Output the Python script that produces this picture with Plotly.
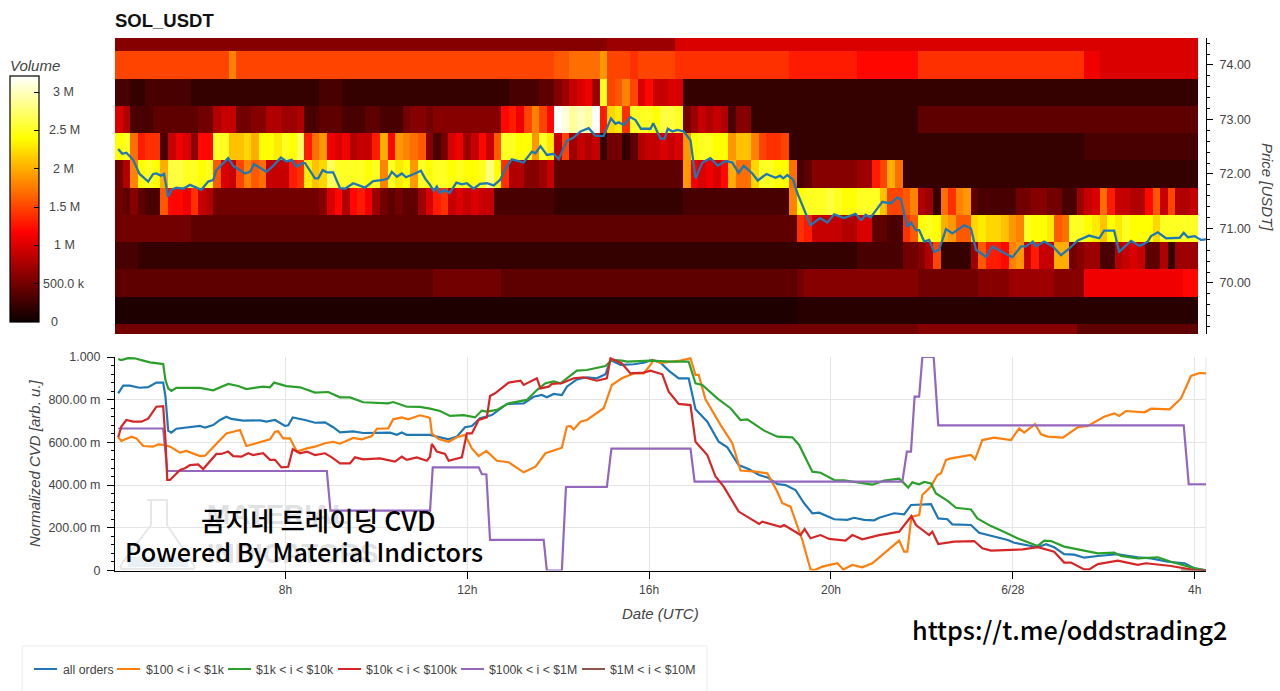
import numpy as np
import plotly.graph_objects as go

# ---------- price ladder heatmap: volume per 10-minute bucket, in units of 100k ----------
PRICE_LEVELS = [74.5, 74.0, 73.5, 73.0, 72.5, 72.0, 71.5, 71.0, 70.5, 70.0, 69.5, 69.0]

VOL_745 = [
 6,6,6,6,6,6,6,6,6,6, 6,6,6,6,6,6,6,6,6,6, 6,6,6,6,6,6,6,6,6,6, 6,6,6,6,6,6,6,6,6,6,
 6,6,6,6,6,6,6,6,6,6, 6,6,6,6,6,6,6,6,6,6, 6,6,6,6,6,7,7,7,7,7, 7,7,7,7,10,10,10,10,10,10,
 10,10,10,10,10,10,10,10,10,10, 10,10,10,10,10,10,10,10,10,10, 10,10,10,10,10,10,10,10,10,10, 10,10,10,10,10,10,10,10,10,10,
 10,10,10,10,10,10,10,10,10,10, 10,10,10,10,10,10,10,10,10,10, 10,10,10]
VOL_740 = [
 15,15,15,15,15,15,15,15,15,15, 15,15,15,15,15,18,15,15,15,15, 15,15,15,15,15,15,15,15,15,15, 15,15,15,15,15,15,15,15,15,15,
 15,15,15,15,15,15,15,15,15,15, 15,15,15,15,15,15,15,15,16,16, 17,17,17,17,19,15,15,15,14,15, 15,15,15,15,14,14,14,14,14,14,
 14,14,14,14,14,14,14,14,14,13, 13,13,13,13,13,13,13,13,12,12, 12,12,12,12,12,12,14,14,14,14, 14,14,14,14,14,14,14,14,14,14,
 14,14,14,14,14,14,14,14,11,11, 10,10,10,10,10,10,10,10,10,10, 10,10,10]
VOL_735 = [
 3,3,2,2,3,3,3,3,3,3, 2,2,2,2,2,2,2,2,2,2, 2,2,2,2,2,2,2,3,3,3, 2,2,2,2,2,2,2,2,2,2,
 2,2,2,2,2,2,2,2,2,2, 2,2,3,3,3,3,4,4,6,7, 9,10,11,7,25,15,16,18,15,10, 12,9,9,10,10,2,2,2,2,2,
 2,2,2,2,2,2,2,2,2,2, 2,2,2,2,2,2,2,2,2,2, 2,2,2,2,2,2,2,2,2,2, 2,2,2,2,2,2,2,2,2,2,
 2,2,2,2,2,2,2,2,2,2, 2,2,2,2,2,2,2,2,2,2, 2,2,2]
VOL_730 = [
 10,8,3,3,3,4,4,4,4,4, 4,5,5,8,9,9,5,5,6,6, 8,8,7,7,8,3,3,4,4,4, 3,3,3,4,4,3,3,3,5,6,
 6,5,6,6,6,6,6,6,6,6, 6,12,13,11,15,18,15,12,32,31, 29,30,29,32,13,22,23,14,25,25, 25,24,26,26,25,5,7,9,8,9,
 8,3,6,6,2,2,2,2,2,2, 2,2,2,2,2,2,2,2,2,2, 2,2,2,2,2,2,4,4,4,4, 4,4,4,4,4,4,4,4,4,4,
 4,4,4,4,4,4,4,4,4,4, 4,4,4,4,4,4,4,4,4,4, 4,4,4]
VOL_725 = [
 24,25,17,13,14,14,3,9,11,10, 6,12,12,25,25,21,21,22,20,24, 24,23,25,24,27,13,17,19,11,10, 11,8,9,9,13,20,12,19,18,17,
 16,6,3,5,10,11,7,9,12,9, 16,25,25,24,24,19,25,23,9,15, 7,9,8,9,2,5,5,2,4,8, 9,9,10,9,10,19,24,25,25,24,
 24,19,21,21,18,15,14,14,15,2, 2,2,2,2,2,2,2,2,2,2, 2,2,2,2,2,2,2,2,2,2, 2,2,2,2,2,2,2,2,2,2,
 2,2,2,2,2,2,2,2,3,3, 3,3,3,3,3,3,3,3,3,3, 3,3,3]
VOL_720 = [
 5,8,18,24,25,24,20,26,26,25, 25,24,25,16,10,9,15,18,16,17, 9,9,9,13,14,23,21,22,27,25, 25,25,25,24,25,18,25,23,24,19,
 25,24,25,25,24,25,24,24,25,28, 24,14,8,8,6,6,7,9,4,4, 4,4,4,4,4,4,4,4,4,4, 4,4,4,4,4,19,11,10,11,10,
 12,20,17,17,22,25,25,24,24,17, 3,4,6,6,6,6,6,6,7,7, 13,15,20,17,2,2,2,2,2,2, 2,2,2,2,2,2,2,2,2,2,
 2,2,2,2,2,2,2,2,2,2, 2,2,2,2,2,2,2,2,2,2, 2,2,2]
VOL_715 = [
 5,4,6,4,3,3,16,12,12,11, 14,9,8,5,5,5,5,5,5,5, 5,5,5,5,5,5,5,6,10,12, 8,12,13,11,7,5,4,5,4,4,
 7,10,13,14,9,10,9,10,9,9, 3,3,3,3,3,3,3,3,2,2, 2,2,2,2,2,2,2,2,2,2, 2,2,2,2,2,3,3,3,3,3,
 3,3,3,3,3,3,3,3,3,18, 24,25,25,25,26,25,24,24,25,25, 25,21,15,15,16,18,8,7,2,17, 14,18,19,4,3,3,3,3,3,5,
 5,6,6,5,5,3,3,7,9,10, 17,13,9,9,8,8,12,16,9,15, 8,8,9]
VOL_710 = [
 5,5,5,5,5,5,5,5,5,5, 4,4,4,4,4,4,4,4,4,4, 4,4,4,4,4,4,4,4,4,4, 4,4,4,4,4,4,4,4,4,4,
 4,4,4,4,4,4,4,4,4,4, 4,4,4,4,4,4,4,4,4,4, 4,4,4,4,4,4,4,4,4,4, 4,4,4,4,4,4,4,4,4,4,
 4,4,4,4,4,4,4,4,4,4, 14,13,9,9,9,9,8,8,10,10, 4,4,3,3,14,16,24,25,24,20, 19,16,16,22,23,22,22,21,19,18,
 25,24,24,23,16,17,25,25,24,23, 21,24,23,25,24,24,24,22,25,25, 25,25,25]
VOL_705 = [
 3,3,3,2,2,2,2,2,2,2, 2,2,2,2,2,2,2,2,2,2, 2,2,2,2,2,2,2,2,2,2, 2,2,2,2,2,2,2,2,2,2,
 2,2,2,2,2,2,2,2,2,2, 2,2,2,2,2,2,2,2,2,2, 2,2,2,2,2,2,2,2,2,2, 2,2,2,2,2,2,2,2,2,2,
 2,2,2,2,2,2,2,2,2,2, 2,2,2,2,2,2,2,2,3,3, 3,3,3,3,5,5,6,8,15,2, 2,2,2,7,16,13,13,12,18,19,
 9,13,9,9,20,20,5,6,7,7, 3,3,8,9,10,9,4,4,8,2, 7,7,7]
VOL_700 = [
 4,4,4,4,4,4,4,4,4,4, 4,4,4,4,4,4,4,4,4,4, 4,4,4,4,4,4,4,4,4,4, 4,4,4,4,4,4,4,4,4,4,
 4,4,5,5,5,5,5,5,5,5, 5,4,4,4,4,4,4,4,4,4, 4,4,4,4,4,4,4,4,4,4, 4,4,4,4,4,4,4,4,4,4,
 4,4,4,4,4,4,4,4,4,4, 5,6,6,6,6,6,6,6,6,6, 6,6,6,6,6,6,5,5,5,5, 5,5,5,5,6,6,6,6,7,7,
 7,7,7,7,6,6,6,6,11,11, 11,11,11,11,11,11,11,11,11,11, 11,12,12]
VOL_695 = [
 1,1,1,1,1,1,1,1,1,1, 1,1,1,1,1,1,1,1,1,1, 1,1,1,1,1,1,1,1,1,1, 1,1,1,1,1,1,1,1,1,1,
 1,1,1,1,1,1,1,1,1,1, 1,1,1,1,1,1,1,1,1,1, 1,1,1,1,1,1,1,1,1,1, 1,1,1,1,1,1,1,1,1,1,
 1,1,1,1,1,1,1,1,1,1, 1.5,1.5,1.5,1.5,1.5,1.5,1.5,1.5,1.5,1.5, 1.5,1.5,1.5,1.5,1.5,1.5,1.5,1.5,1.5,1.5, 1.5,1.5,1.5,1.5,1.5,1.5,1.5,1.5,1.5,1.5,
 1.5,1.5,1.5,1.5,1.5,1.5,1.5,1.5,1.5,1.5, 1.5,1.5,1.5,1.5,1.5,1.5,1.5,1.5,1.5,1.5, 1.5,1.5,1.5]
VOL_690 = [
 5,5,5,5,5,5,5,5,5,5, 5,5,5,5,5,5,5,5,5,5, 5,5,5,5,5,5,5,5,5,5, 5,5,5,5,5,5,5,5,5,5,
 5,5,5,5,5,5,5,5,5,5, 5,5,5,5,5,5,5,5,5,5, 5,5,5,5,5,5,5,5,5,5, 5,5,5,5,5,5,5,5,5,5,
 5,5,5,5,5,5,5,5,5,5, 5,5,5,5,5,5,5,5,5,5, 5,5,5,5,5,5,6,6,6,6, 6,6,6,6,6,6,6,6,6,6,
 6,6,6,6,6,6,6,4,4,4, 4,4,4,4,4,4,4,4,4,4, 4,4,4]

# ---------- last traded price ----------
PRICE_T = [4.32,4.41,4.50,4.65,4.79,4.98,5.09,5.16,5.26,5.33,5.42,5.49,5.60,5.75,5.90,6.15,6.30,6.41,6.48,6.74,6.85,7.11,7.22,7.31,7.58,7.73,7.90,8.02,8.14,8.25,8.36,8.43,8.65,8.72,8.82,8.91,9.05,9.20,9.31,9.49,9.75,9.93,10.15,10.26,10.34,10.45,10.56,10.65,10.85,10.98,11.07,11.18,11.26,11.33,11.40,11.51,11.61,11.76,11.88,11.99,12.14,12.28,12.43,12.58,12.72,12.84,12.98,13.24,13.42,13.50,13.61,13.75,13.90,14.01,14.19,14.34,14.49,14.67,14.82,15.0,15.16,15.26,15.33,15.44,15.59,15.70,15.82,16.03,16.09,16.25,16.34,16.41,16.51,16.62,16.76,16.91,17.02,17.17,17.35,17.51,17.68,17.83,17.97,18.08,18.27,18.39,18.58,18.78,18.88,18.95,19.04,19.17,19.26,19.44,19.55,19.76,19.92,20.07,20.29,20.54,20.65,20.69,20.76,20.87,21.13,21.31,21.46,21.54,21.68,21.76,21.87,21.94,22.05,22.16,22.27,22.38,22.53,22.67,22.93,23.08,23.19,23.41,23.55,23.77,23.99,24.18,24.29,24.44,24.51,24.69,24.88,25.06,25.21,25.43,25.68,25.90,26.01,26.23,26.34,26.60,26.79,26.97,27.04,27.19,27.37,27.67,27.76,27.85,28.0,28.14,28.25]
PRICE_V = [72.46,72.37,72.39,72.26,72.00,71.86,72.00,72.01,71.97,72.00,71.58,71.71,71.75,71.73,71.80,71.71,71.86,71.89,72.07,72.29,72.15,72.01,72.04,72.18,72.04,72.15,72.30,72.23,72.26,72.13,72.20,72.20,71.92,71.92,72.07,72.03,72.03,71.74,71.73,71.83,71.75,71.87,71.89,71.92,72.04,71.95,72.01,71.94,72.01,72.06,71.92,71.80,71.69,71.77,71.65,71.71,71.65,71.84,71.81,71.83,71.73,71.82,71.83,71.79,71.89,72.10,72.27,72.21,72.41,72.38,72.51,72.35,72.37,72.27,72.61,72.67,72.78,72.84,72.70,72.70,73.02,72.92,72.95,72.90,73.04,72.99,72.83,72.83,72.93,72.65,72.65,72.83,72.78,72.81,72.78,72.62,71.92,72.21,72.29,72.15,72.24,72.21,72.02,72.15,72.01,71.88,72.00,71.93,71.97,71.92,71.98,71.89,71.65,71.28,71.06,71.19,71.11,71.26,71.19,71.27,71.16,71.17,71.25,71.20,71.49,71.46,71.57,71.53,71.03,71.11,70.97,70.97,70.76,70.79,70.57,70.61,70.99,70.91,71.06,71.00,70.61,70.48,70.67,70.57,70.47,70.67,70.67,70.76,70.67,70.76,70.67,70.51,70.61,70.78,70.87,70.82,70.96,70.96,70.57,70.77,70.68,70.76,70.86,70.93,70.82,70.83,70.92,70.84,70.86,70.79,70.80]

# ---------- normalized CVD per order-size bucket ----------
ALL_T = [4.32,4.43,4.575,4.79,4.98,5.16,5.31,5.36,5.42,5.49,5.60,5.90,6.12,6.23,6.41,6.56,6.70,6.81,7.07,7.44,7.58,7.77,7.99,8.06,8.16,8.43,8.65,8.87,9.05,9.20,9.49,9.71,10.08,10.30,10.45,10.56,10.67,11.0,11.18,11.33,11.59,11.77,11.95,12.10,12.28,12.54,12.87,13.24,13.46,13.64,13.75,13.90,14.08,14.19,14.41,14.63,14.85,15.04,15.15,15.37,15.66,15.88,16.07,16.25,16.43,16.65,16.87,17.02,17.28,17.53,17.72,17.97,18.20,18.42,18.60,18.82,19.00,19.22,19.41,19.59,19.74,20.07,20.36,20.51,20.73,20.95,21.06,21.39,21.61,21.76,22.20,22.36,22.56,22.67,23.08,23.26,23.52,23.89,24.03,24.55,24.73,24.91,25.13,25.35,25.57,25.87,26.31,26.75,27.04,27.41,27.78,28.0,28.25]
ALL_V = [.830,.866,.866,.856,.859,.880,.880,.814,.655,.646,.664,.672,.677,.669,.681,.705,.720,.710,.702,.703,.697,.705,.677,.680,.717,.705,.692,.694,.671,.647,.652,.644,.644,.646,.636,.646,.635,.635,.635,.627,.614,.627,.671,.677,.713,.728,.780,.783,.814,.822,.811,.827,.822,.861,.895,.905,.900,.919,.986,.963,.966,.973,.986,.973,.936,.900,.900,.755,.697,.603,.577,.494,.474,.447,.436,.405,.400,.377,.315,.268,.271,.240,.237,.247,.237,.235,.247,.268,.263,.307,.311,.244,.240,.216,.213,.177,.162,.143,.130,.109,.123,.109,.077,.074,.060,.068,.076,.062,.057,.041,.034,.010,.001]

SMALL_T = [4.32,4.39,4.61,4.72,4.87,5.09,5.20,5.35,5.46,5.68,5.82,6.12,6.23,6.48,6.70,7.0,7.14,7.66,7.77,7.84,7.95,8.10,8.25,8.47,8.65,8.87,9.05,9.20,9.49,9.68,9.90,10.01,10.26,10.37,10.56,10.70,10.96,11.15,11.18,11.22,11.37,11.59,11.77,11.95,12.10,12.25,12.42,12.65,12.91,13.24,13.50,13.72,14.08,14.19,14.27,14.34,14.49,14.63,14.82,15.0,15.18,15.40,15.66,15.88,16.03,16.10,16.25,16.47,16.69,16.91,17.02,17.09,17.24,17.57,17.83,18.01,18.34,18.60,18.82,18.93,19.11,19.37,19.55,19.63,19.81,20.14,20.27,20.47,20.69,20.91,21.28,21.50,21.61,21.68,21.77,21.94,22.01,22.20,22.34,22.42,22.53,22.64,23.08,23.17,23.33,23.59,23.96,24.14,24.25,24.49,24.62,24.77,25.10,25.43,25.65,26.01,26.23,26.34,26.49,26.90,27.04,27.45,27.70,27.92,28.11,28.25]
SMALL_V = [.624,.607,.627,.619,.583,.580,.591,.588,.580,.552,.560,.536,.538,.596,.642,.658,.583,.614,.650,.652,.619,.619,.557,.572,.580,.596,.603,.594,.621,.614,.630,.664,.666,.708,.717,.708,.727,.717,.713,.642,.616,.603,.624,.635,.572,.536,.560,.514,.507,.460,.486,.549,.575,.674,.677,.661,.697,.705,.733,.760,.869,.900,.923,.923,.963,.986,.973,.978,.983,.994,.916,.916,.802,.682,.596,.468,.463,.455,.369,.315,.299,.143,.005,.001,.018,.034,.005,.026,.015,.034,.099,.140,.088,.088,.252,.260,.354,.393,.447,.455,.518,.525,.541,.521,.611,.622,.611,.666,.646,.686,.638,.627,.622,.671,.677,.720,.736,.724,.747,.741,.758,.755,.806,.911,.925,.923]

MID_T = [4.32,4.39,4.54,4.68,4.87,5.02,5.31,5.36,5.42,5.49,5.60,5.82,6.12,6.41,6.74,6.96,7.14,7.51,7.66,7.75,8.02,8.32,8.65,8.94,9.20,9.42,9.71,10.26,10.37,10.67,10.96,11.18,11.40,11.62,11.92,12.17,12.32,12.43,12.65,12.91,13.31,13.53,13.72,13.90,14.05,14.41,14.63,15.04,15.18,15.40,15.52,16.03,16.47,16.87,17.02,17.17,17.50,17.79,18.01,18.16,18.53,18.82,19.15,19.30,19.59,19.77,20.07,20.29,20.65,20.91,21.17,21.50,21.61,21.70,21.79,21.94,22.05,22.20,22.31,22.56,22.75,23.08,23.22,23.52,23.85,24.10,24.55,24.69,24.84,25.13,25.57,25.87,26.23,26.38,26.75,27.19,27.48,28.0,28.25]
MID_V = [.991,.986,.995,.994,.983,.975,.967,.892,.853,.841,.856,.856,.855,.844,.874,.864,.850,.861,.858,.880,.864,.858,.833,.836,.811,.811,.788,.783,.789,.767,.766,.758,.747,.724,.728,.717,.749,.744,.752,.783,.799,.845,.877,.886,.877,.936,.939,.958,.986,.983,.978,.983,.978,.978,.877,.869,.806,.760,.705,.708,.655,.627,.624,.588,.463,.458,.424,.422,.411,.402,.421,.430,.408,.388,.413,.404,.415,.408,.361,.327,.294,.286,.244,.208,.177,.151,.115,.140,.138,.112,.093,.080,.084,.068,.057,.062,.041,.010,.001]

LARGE_T = [4.32,4.39,4.50,4.65,4.83,4.98,5.16,5.31,5.36,5.40,5.46,5.68,5.79,5.90,6.08,6.19,6.48,6.59,6.74,6.85,7.03,7.18,7.29,7.51,7.66,7.77,7.91,8.06,8.16,8.32,8.47,8.65,8.87,9.02,9.20,9.42,9.53,9.71,10.08,10.41,10.56,10.67,10.89,11.11,11.18,11.22,11.33,11.51,11.59,11.88,11.99,12.10,12.25,12.43,12.50,12.61,12.91,13.17,13.24,13.53,13.61,13.79,13.86,14.08,14.34,14.56,14.85,15.07,15.15,15.40,15.59,15.88,16.03,16.29,16.43,16.65,16.91,17.02,17.28,17.46,17.64,17.97,18.42,18.49,18.89,18.97,19.33,19.42,19.55,19.77,19.96,20.32,20.47,20.69,21.06,21.50,21.77,21.87,22.16,22.23,22.36,22.71,23.15,23.33,23.52,24.03,24.22,24.55,24.91,25.13,25.28,25.57,25.68,25.87,26.31,26.75,26.93,27.48,28.0,28.25]
LARGE_V = [.624,.674,.705,.697,.697,.711,.767,.770,.611,.424,.424,.471,.479,.494,.497,.475,.546,.546,.557,.536,.533,.549,.541,.549,.518,.518,.483,.486,.568,.549,.557,.541,.549,.530,.502,.502,.530,.521,.525,.510,.533,.518,.530,.514,.533,.593,.557,.546,.514,.530,.642,.642,.705,.717,.817,.830,.880,.889,.869,.900,.853,.861,.874,.877,.900,.905,.889,.900,.994,.970,.923,.927,.936,.919,.838,.780,.775,.603,.541,.440,.393,.276,.218,.229,.205,.213,.166,.194,.151,.166,.148,.140,.166,.146,.166,.182,.255,.213,.166,.182,.124,.135,.138,.104,.093,.096,.099,.109,.088,.037,.037,.005,.005,.030,.046,.026,.034,.021,.002,0]

BLOCK_T = [4.32,5.31,5.40,8.91,8.99,11.18,11.24,12.25,12.32,12.42,12.50,13.68,13.75,14.08,14.17,15.07,15.17,16.91,17.0,21.57,21.67,21.76,21.84,21.94,22.01,22.26,22.36,27.76,27.87,28.25]
BLOCK_V = [.665,.665,.466,.466,.280,.280,.483,.483,.452,.450,.143,.143,0,0,.391,.391,.571,.571,.416,.416,.557,.557,.814,.814,1,1,.680,.680,.404,.404]

WHALE_T = [27.7,28.25]
WHALE_V = [0,0]

SERIES_NAMES = ["all orders", "$100 < i < $1k", "$1k < i < $10k", "$10k < i < $100k", "$100k < i < $1M", "$1M < i < $10M"]
SERIES_COLORS = ["#1f77b4", "#ff7f0e", "#2ca02c", "#d62728", "#9467bd", "#8c564b"]

CVD_TICKS = [0, .2, .4, .6, .8, 1]
CVD_LABELS = ["0", "200.00 m", "400.00 m", "600.00 m", "800.00 m", "1.000"]
PRICE_TICKS = [70, 71, 72, 73, 74]
PRICE_LABELS = ["70.00", "71.00", "72.00", "73.00", "74.00"]
TIME_TICKS = [8, 12, 16, 20, 24, 28]
TIME_LABELS = ["8h", "12h", "16h", "20h", "6/28", "4h"]
VOL_TICKS = [0, 5, 10, 15, 20, 25, 30]
VOL_LABELS = ["0", "500.0 k", "1 M", "1.5 M", "2 M", "2.5 M", "3 M"]

W, H = 1280, 691
FONT = "Liberation Sans"
GRAY = "#444444"
px = lambda x: x / W
py = lambda y: 1 - y / H

volume = [VOL_690, VOL_695, VOL_700, VOL_705, VOL_710, VOL_715, VOL_720, VOL_725, VOL_730, VOL_735, VOL_740, VOL_745]
levels = PRICE_LEVELS[::-1]
buckets = 4.25 + (np.arange(len(VOL_745)) + 0.5) / 6

fig = go.Figure()

fig.add_trace(go.Heatmap(
    x=buckets, y=levels, z=volume, xaxis="x", yaxis="y", zmin=0, zmax=32.1, hoverinfo="skip",
    colorscale=[[0, "#0a0000"], [.365, "#ff0000"], [.746, "#ffff00"], [1, "#ffffff"]],
    colorbar=dict(
        x=px(9.5), xanchor="left", xpad=0, y=py(322), yanchor="bottom", ypad=0,
        len=246 / H, lenmode="fraction", thickness=28.5, thicknessmode="pixels",
        outlinecolor="black", outlinewidth=1.2, tickmode="array", tickvals=VOL_TICKS, ticktext=VOL_LABELS,
        ticks="inside", ticklen=5, tickcolor="black", showticklabels=False),
))
fig.add_trace(go.Scatter(x=PRICE_T, y=PRICE_V, xaxis="x", yaxis="y", mode="lines",
                         line=dict(color="#1f77b4", width=2.3), showlegend=False, cliponaxis=True))

# faint vendor mark sits under the CVD lines
fig.add_trace(go.Scatter(x=[6.27, 6.27], y=[.25, .068], xaxis="x2", yaxis="y2", mode="text",
                         text=["MATERIAL", "INDICATORS"], textposition="middle right",
                         textfont=dict(family=FONT, size=28, color="#dfe1e3", weight="bold"),
                         showlegend=False, hoverinfo="skip"))

cvd = [(ALL_T, ALL_V), (SMALL_T, SMALL_V), (MID_T, MID_V), (LARGE_T, LARGE_V), (BLOCK_T, BLOCK_V), (WHALE_T, WHALE_V)]
draw_order = [0, 1, 2, 4, 3, 5]
for i in draw_order:
    fig.add_trace(go.Scatter(x=cvd[i][0], y=cvd[i][1], xaxis="x2", yaxis="y2", mode="lines", name=SERIES_NAMES[i],
                             line=dict(color=SERIES_COLORS[i], width=2.2), showlegend=False))

tickfont = dict(family=FONT, size=12.5, color=GRAY)
X_RANGE = [4.25, 28.25]
X_DOMAIN = [px(115), px(1206)]

shapes = [
    dict(type="line", xref="paper", yref="paper", x0=px(1206), x1=px(1206), y0=py(357), y1=py(570.5),
         line=dict(color="#e5e5e5", width=1), layer="below"),
    dict(type="path", xref="paper", yref="paper", layer="below", line=dict(color="#e6e7e8", width=2),
         path="M {0},{5} L {1},{5} L {1},{6} L {2},{7} Q {3},{8} {2},{8} L {4},{8} Q {9},{8} {4},{7} L {10},{6} L {10},{5} Z".format(
             px(147), px(167), px(192), px(197), px(123), py(500), py(525), py(562), py(569), px(118), px(151))),
    dict(type="rect", xref="paper", yref="paper", layer="below", x0=px(128), x1=px(188), y0=py(567), y1=py(557),
         fillcolor="#e9f0f5", line=dict(width=0)),
    dict(type="rect", xref="paper", yref="paper", x0=px(22), x1=px(707), y0=py(646), y1=py(692),
         line=dict(color="#ececec", width=1), fillcolor="white", layer="below"),
]

annotations = []


def note(x, y, text, size, color=GRAY, anchor="left", angle=0, **font):
    # annotation boxes carry about 2px of padding on the left
    shift = 2 if anchor == "left" else 0
    annotations.append(dict(xref="paper", yref="paper", x=px(x - shift), y=py(y), text=text, showarrow=False,
                            xanchor=anchor, yanchor="middle", align="left", textangle=angle,
                            font=dict(family=font.pop("family", FONT), size=size, color=color, **font)))


# legend row
LEGEND_X = [(34, 62.5), (117, 145.7), (228, 256), (338, 366), (461, 489), (582, 610)]
for (x0, xt), name, color in zip(LEGEND_X, SERIES_NAMES, SERIES_COLORS):
    shapes.append(dict(type="line", xref="paper", yref="paper", x0=px(x0), x1=px(x0 + 23), y0=py(669), y1=py(669),
                       line=dict(color=color, width=2)))
    note(xt, 669.5, name.replace("<", "&lt;"), 12.3)

# color bar labels, placed from their tick values
VOL_LABEL_X = [54, 64, 64, 64, 63, 64, 63]
for value, label, x in zip(VOL_TICKS, VOL_LABELS, VOL_LABEL_X):
    note(x, 322 - value / 32.1 * 246, label, 12.5, anchor="center")

note(115, 20.5, "<b>SOL_USDT</b>", 18.5, color="#111111")
note(10, 65, "Volume", 15, style="italic")

# axis titles
note(1268, 187, "Price [USDT]", 15, angle=90, anchor="center", style="italic")
note(34, 463, "Normalized CVD [arb. u.]", 15, angle=-90, anchor="center", style="italic")
note(660.5, 613.5, "Date (UTC)", 15, anchor="center", style="italic")

KR = "Noto Sans CJK KR"
note(201, 519.5, "곰지네 트레이딩 CVD", 26.6, color="black", family=KR, weight=500)
note(125, 550.5, "Powered By Material Indictors", 25.2, color="black", family=KR, weight=500)
note(912, 628.5, "https://t.me/oddstrading2", 25.2, color="black", family=KR, weight=500)

fig.update_layout(
    width=W, height=H, autosize=False, margin=dict(l=0, r=0, t=0, b=0, autoexpand=False),
    paper_bgcolor="white", plot_bgcolor="white", showlegend=False,
    shapes=shapes, annotations=annotations,
    xaxis=dict(domain=X_DOMAIN, range=X_RANGE, anchor="y", visible=False),
    yaxis=dict(domain=[py(334), py(38)], range=[69.064, 74.495], anchor="x", side="right",
               tickmode="array", tickvals=PRICE_TICKS, ticktext=PRICE_LABELS, tickfont=tickfont,
               ticks="outside", ticklen=6, tickcolor="black", ticklabelstandoff=4,
               minor=dict(ticks="outside", ticklen=3, tickcolor="black", tickmode="linear", tick0=70, dtick=.2),
               showgrid=False, zeroline=False, showline=True, linecolor="black", linewidth=1),
    xaxis2=dict(domain=X_DOMAIN, range=X_RANGE, anchor="y2",
                tickmode="array", tickvals=TIME_TICKS, ticktext=TIME_LABELS, tickfont=dict(family=FONT, size=12, color=GRAY),
                ticks="outside", ticklen=7, tickcolor="black", ticklabelstandoff=1, showgrid=True, gridcolor="#e5e5e5",
                zeroline=False, showline=True, linecolor="black", linewidth=1),
    yaxis2=dict(domain=[py(570.5), py(357)], range=[0, 1], anchor="x2",
                tickmode="array", tickvals=CVD_TICKS, ticktext=CVD_LABELS, tickfont=tickfont,
                ticks="outside", ticklen=7, tickcolor="black", ticklabelstandoff=4,
                minor=dict(ticks="outside", ticklen=3, tickcolor="black", tickmode="linear", tick0=0, dtick=.04),
                showgrid=True, gridcolor="#e5e5e5", zeroline=False, showline=True, linecolor="black", linewidth=1),
)

fig.write_html("out.html")
